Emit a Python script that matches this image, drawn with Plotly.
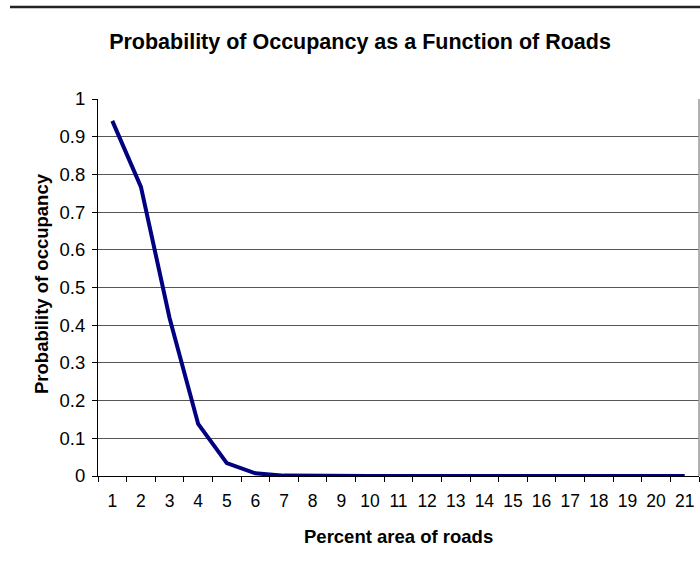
import plotly.graph_objects as go

# values
road_pct = ["1", "2", "3", "4", "5", "6", "7", "8", "9", "10", "11",
            "12", "13", "14", "15", "16", "17", "18", "19", "20", "21"]
occupancy = [0.942, 0.767, 0.419, 0.138, 0.034, 0.007, 0.001, 0.0, 0.0, 0.0, 0.0,
             0.0, 0.0, 0.0, 0.0, 0.0, 0.0, 0.0, 0.0, 0.0, 0.0]

FONT = "Liberation Sans, Arial, sans-serif"

fig = go.Figure(go.Scatter(
    x=road_pct,
    y=occupancy,
    mode="lines",
    line=dict(color="#000080", width=4),
    showlegend=False,
))

fig.update_layout(
    width=700,
    height=563,
    margin=dict(l=98, r=1, t=99, b=87, autoexpand=False),
    paper_bgcolor="white",
    plot_bgcolor="white",
    font=dict(family=FONT, color="black"),
    title=dict(
        text="<b>Probability of Occupancy as a Function of Roads</b>",
        font=dict(size=21.5, family=FONT, color="black"),
        x=360 / 700, xref="container", xanchor="center",
        y=1 - 41 / 563, yref="container", yanchor="middle",
        automargin=False,
    ),
    xaxis=dict(
        type="category",
        range=[-0.5, 20.5],
        tickson="boundaries",
        ticks="outside",
        ticklen=5,
        tickcolor="black",
        tickangle=0,
        showline=True,
        linecolor="black",
        linewidth=1,
        showgrid=False,
        tickfont=dict(size=17.5),
        ticklabelstandoff=9,
        automargin=False,
    ),
    yaxis=dict(
        range=[0, 1],
        dtick=0.1,
        ticks="outside",
        ticklen=5,
        tickcolor="black",
        showline=True,
        linecolor="black",
        linewidth=1,
        showgrid=True,
        gridcolor="#555555",
        gridwidth=1,
        zeroline=False,
        tickfont=dict(size=18.5),
        ticklabelstandoff=3,
        automargin=False,
    ),
    annotations=[
        dict(text="<b>Percent area of roads</b>", xref="paper", yref="paper",
             x=0.5, y=(476 - 536) / 377, xanchor="center", yanchor="middle",
             showarrow=False, font=dict(size=18.5)),
        dict(text="<b>Probability of occupancy</b>", xref="paper", yref="paper",
             x=(41 - 98) / 601, y=(476 - 284) / 377, xanchor="center", yanchor="middle",
             textangle=-90, showarrow=False, font=dict(size=18.5)),
    ],
    shapes=[
        # right edge of the plot area
        dict(type="line", xref="paper", yref="paper", x0=1, x1=1, y0=0, y1=1,
             line=dict(color="#999999", width=1.5)),
        # rule across the top of the page
        dict(type="line", xref="paper", yref="paper",
             x0=(10 - 98) / 601, x1=(700 - 98) / 601,
             y0=(476 - 7) / 377, y1=(476 - 7) / 377,
             line=dict(color="#222222", width=2.5)),
    ],
)

# drop the browser's default body margin so the figure sits at the window corner
fig.write_html(
    "out.html",
    config={"displayModeBar": False},
    post_script="document.body.style.margin='0px';",
)
